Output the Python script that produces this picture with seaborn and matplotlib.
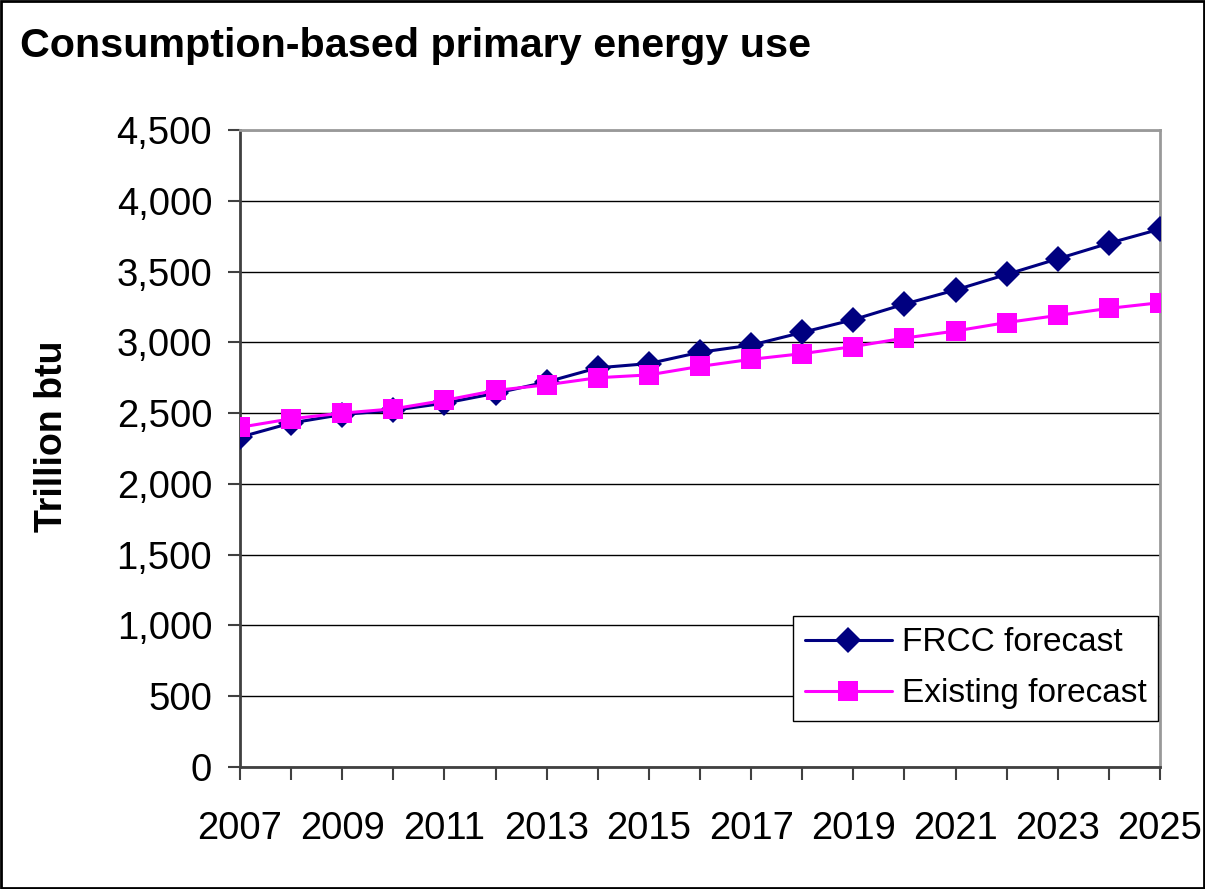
import matplotlib
matplotlib.use("Agg")
import matplotlib.pyplot as plt
import seaborn as sns
import pandas as pd
from matplotlib.ticker import FuncFormatter, MultipleLocator
from matplotlib.patches import Rectangle

years = list(range(2007, 2026))
frcc_forecast = [2330, 2430, 2490, 2520, 2570, 2640, 2720, 2820, 2850, 2930,
                 2980, 3070, 3160, 3270, 3370, 3480, 3590, 3700, 3800]
existing_forecast = [2400, 2460, 2500, 2530, 2590, 2660, 2700, 2750, 2770, 2830,
                     2880, 2920, 2970, 3030, 3080, 3140, 3190, 3240, 3280]
series_names = ["FRCC forecast", "Existing forecast"]

df = pd.DataFrame({
    "year": years * 2,
    "value": frcc_forecast + existing_forecast,
    "series": [series_names[0]] * len(years) + [series_names[1]] * len(years),
})

sns.set_theme(style="white")
plt.rcParams["font.family"] = ["Liberation Sans", "DejaVu Sans"]
plt.rcParams["text.color"] = "black"

fig = plt.figure(figsize=(12.05, 8.89), dpi=100)
ax = fig.add_axes([240 / 1205, 1 - 767 / 889, 920 / 1205, 637 / 889])

palette = {series_names[0]: "#000080", series_names[1]: "#FF00FF"}
markers = {series_names[0]: "D", series_names[1]: "s"}
sns.lineplot(data=df, x="year", y="value", hue="series", style="series",
             palette=palette, markers=markers, dashes=False, ax=ax,
             linewidth=2.2, markersize=15, markeredgewidth=0, zorder=3)
for line in ax.get_lines():
    if line.get_marker() == "D":
        line.set_markersize(13)

ax.set_xlim(2007, 2025)
ax.set_ylim(0, 4500)
ax.yaxis.set_major_locator(MultipleLocator(500))
ax.yaxis.set_major_formatter(FuncFormatter(lambda v, p: f"{int(v):,}"))
ax.set_xticks(years)
ax.set_xticklabels([str(y) if (y - 2007) % 2 == 0 else "" for y in years])
ax.grid(axis="y", color="black", linewidth=1)
ax.grid(axis="x", visible=False)
ax.set_axisbelow(True)

ax.tick_params(axis="both", which="major", direction="out", length=9, width=1.5,
               color="#404040", labelsize=27.5, labelcolor="black",
               bottom=True, left=True)
ax.tick_params(axis="x", pad=23)
ax.tick_params(axis="y", pad=11)

for side in ["left", "bottom"]:
    ax.spines[side].set_color("#404040")
    ax.spines[side].set_linewidth(2)
for side in ["top", "right"]:
    ax.spines[side].set_color("#999999")
    ax.spines[side].set_linewidth(2)

ax.set_xlabel("")
ax.set_ylabel("Trillion btu", fontsize=27, fontweight="bold", color="black")
ax.yaxis.set_label_coords(-0.185, 0.52)

leg = ax.legend(loc="lower right", bbox_to_anchor=(0.998, 0.072), fontsize=24,
                frameon=True, fancybox=False, edgecolor="black", framealpha=1,
                handlelength=2.6, handletextpad=0.3, borderpad=0.35,
                labelspacing=0.6, borderaxespad=0)
leg.get_frame().set_linewidth(1)
for txt in leg.get_texts():
    txt.set_color("black")

fig.text(20 / 1205, 1 - 46 / 889, "Consumption-based primary energy use",
         fontsize=29.7, fontweight="bold", va="center", ha="left", color="black")

fig.patches.append(Rectangle((0.001, 0.001), 0.998, 0.998, transform=fig.transFigure,
                             fill=False, edgecolor="black", linewidth=2))

fig.savefig("out.png", dpi=100)
